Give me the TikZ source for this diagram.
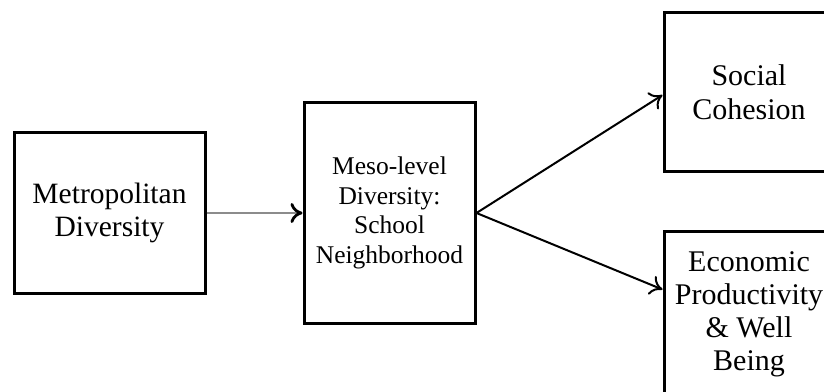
\documentclass[tikz,border=0pt]{standalone}
\usepackage{fontspec}
\setmainfont{Liberation Serif}
\usetikzlibrary{arrows.meta}

\begin{document}
\begin{tikzpicture}[>={To[length=12pt,width=20pt]}, x=1pt, y=1pt, every node/.style={draw, line width=3pt, inner sep=0pt, align=center}]
	\useasboundingbox (0,0) rectangle (824,391);
	%Metropolitan
	\node [minimum width=191pt, minimum height=160pt, font=\fontsize{29.5}{33}\selectfont] (metro) at (109.5,178) {Metropolitan\\Diversity};
	%Meso
	\node [minimum width=171pt, minimum height=220pt, font=\fontsize{25.5}{29.5}\selectfont] (meso) at (389.5,178) {Meso-level\\Diversity:\\School\\Neighborhood};
	\draw[black!45, line width=2.8pt, -{To[length=12pt,width=20pt,color=black]}] (metro) -- (meso);
	%Outcomes
	\node [minimum width=170pt, minimum height=159pt, font=\fontsize{30}{34}\selectfont] (social) at (749,298.5) {Social\\Cohesion};
	\node [minimum width=170pt, minimum height=164pt, font=\fontsize{30}{33}\selectfont] (econ) at (749,77) {Economic\\Productivity\\\&~Well\\Being};
	\draw[->, line width=2pt] (meso.east) -- ([yshift=-2.5pt]social.west);
	\draw[->, line width=2pt] (meso.east) -- ([yshift=24.5pt]econ.west);
\end{tikzpicture}
\end{document}
